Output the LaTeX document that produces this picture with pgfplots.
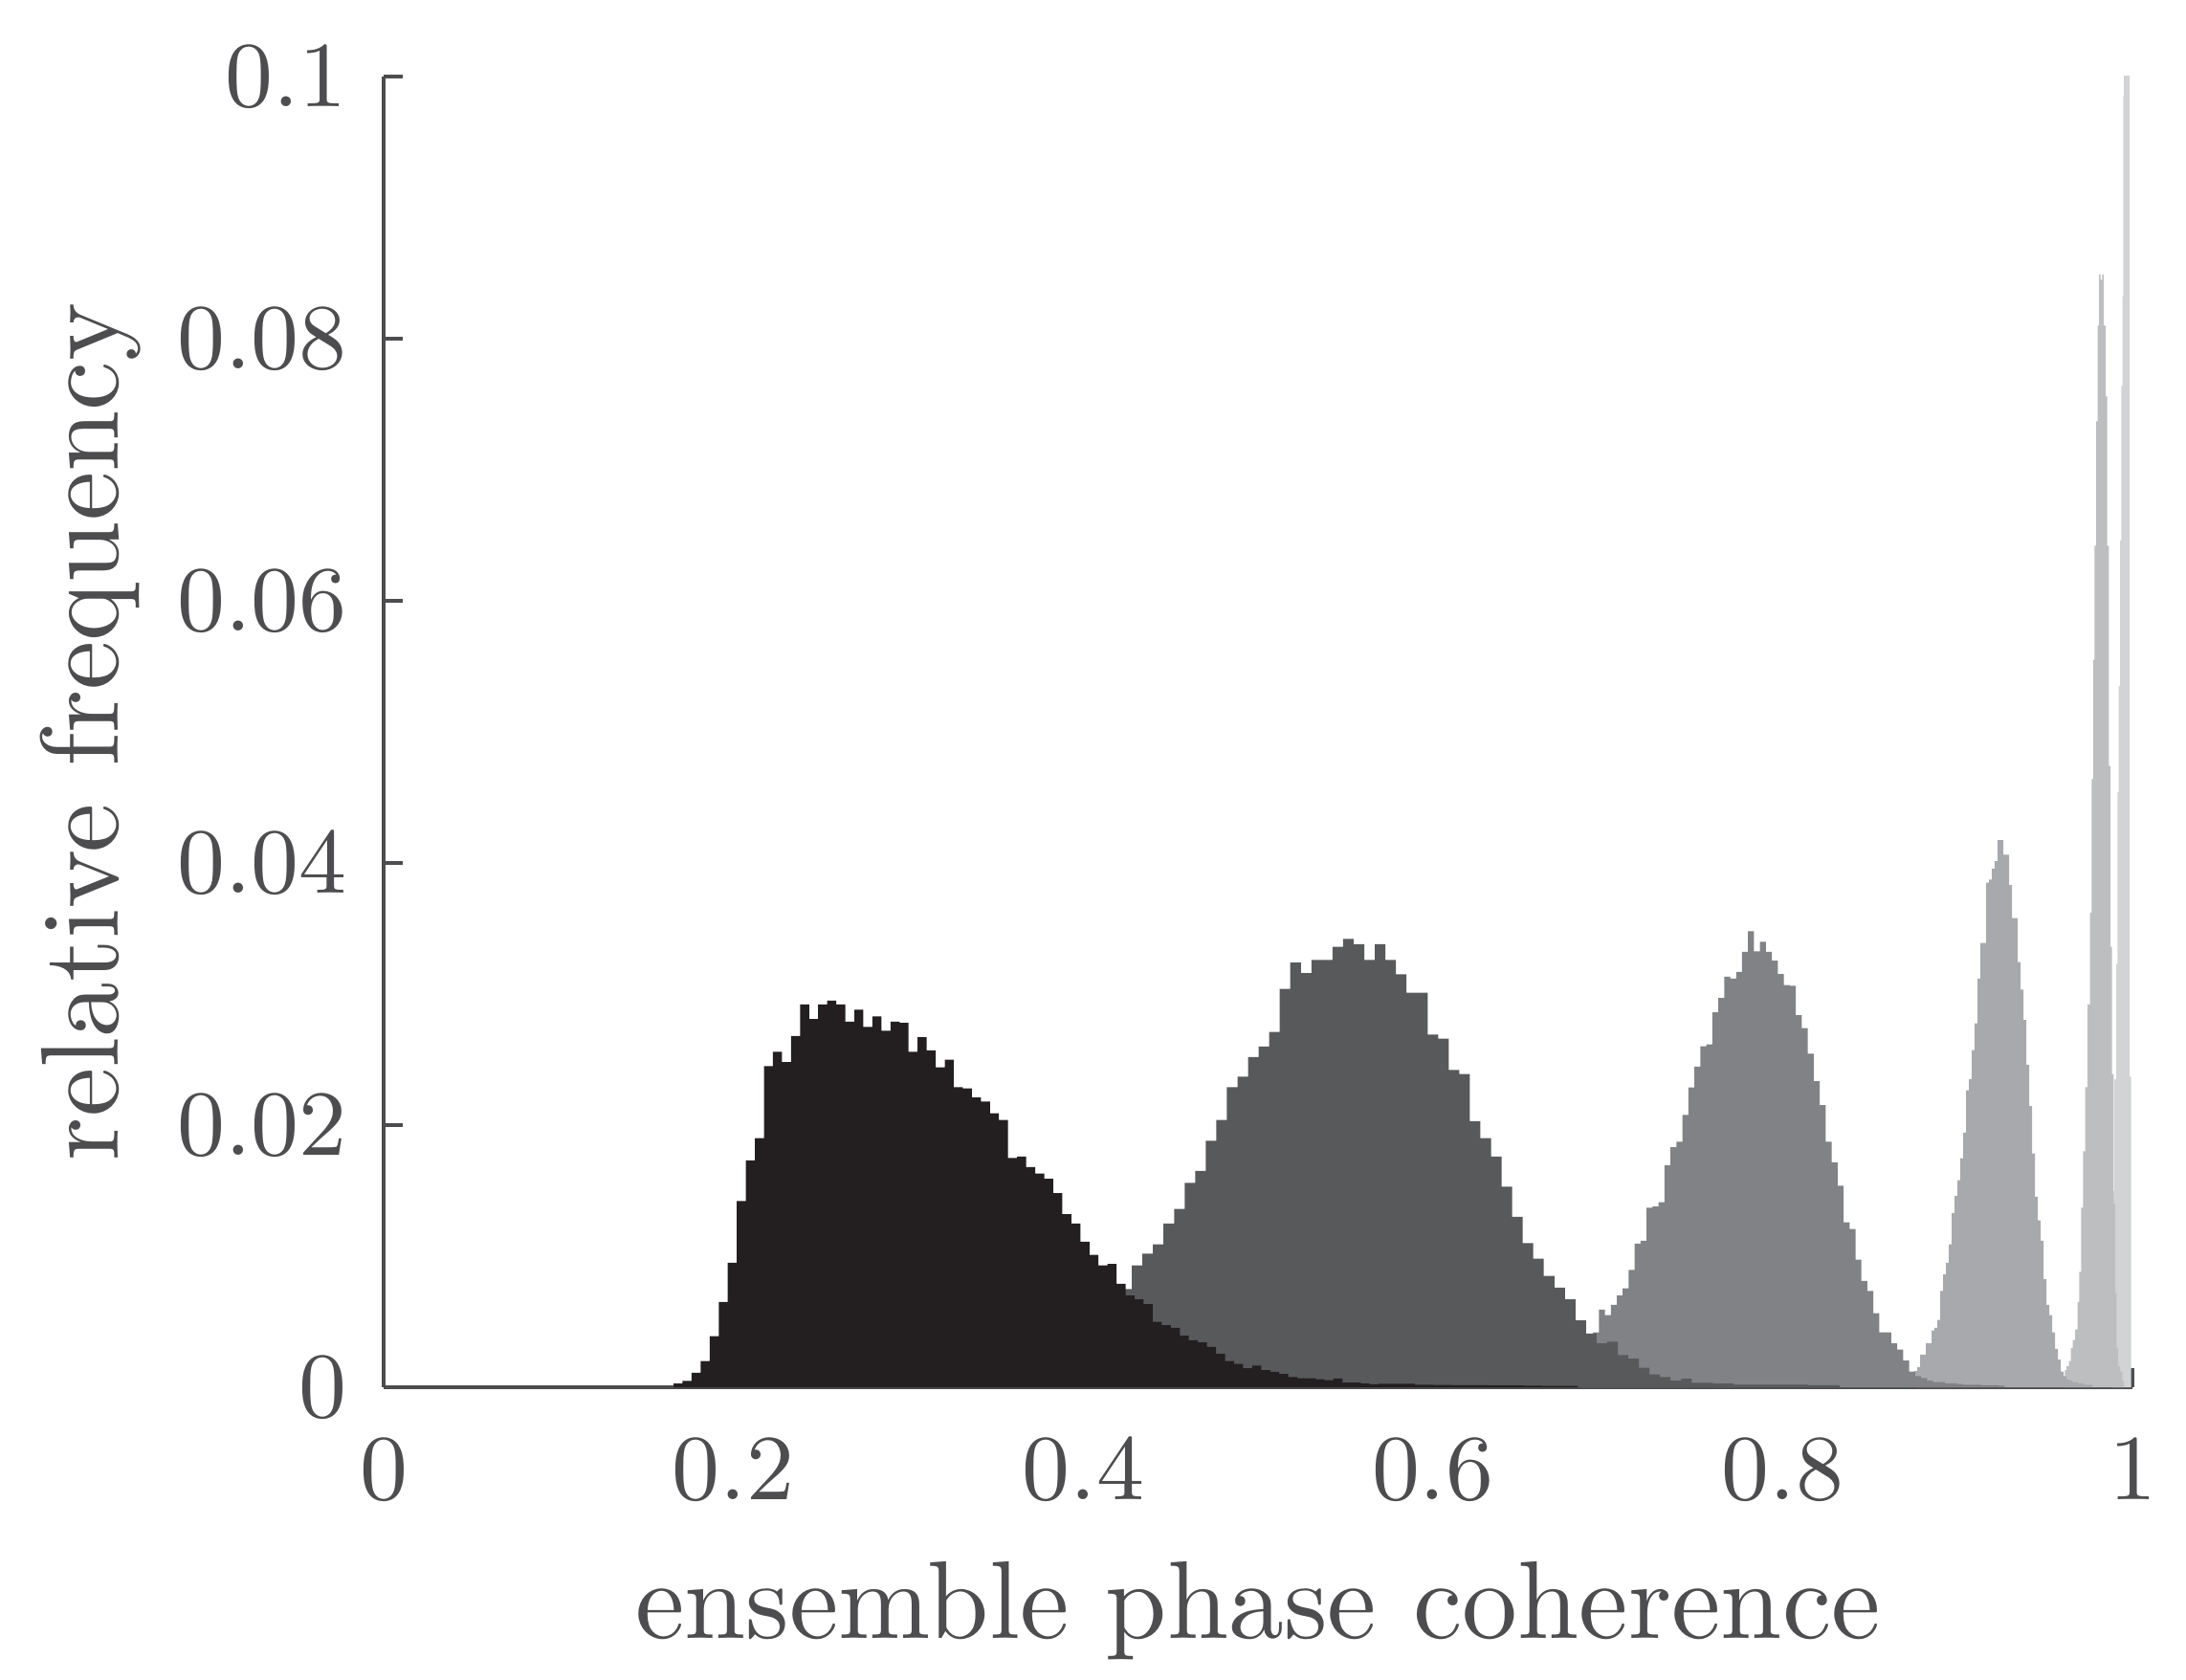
\documentclass[border=0pt]{standalone}
\usepackage{pgfplots}
\pgfplotsset{compat=1.18}
\usetikzlibrary{calc}

\definecolor{axiscol}{RGB}{77,77,79}
\definecolor{hblack}{HTML}{231F20}
\definecolor{hdark}{HTML}{58595B}
\definecolor{hmid}{HTML}{808285}
\definecolor{hlight}{HTML}{A7A9AC}
\definecolor{hlighter}{HTML}{BCBEC0}
\definecolor{hlightest}{HTML}{D1D3D4}

\begin{document}
\begin{tikzpicture}
\begin{axis}[
    name=ax,
    at={(0,0)}, anchor=south west,
    scale only axis,
    width=169.26pt, height=126.85pt,
    xmin=0, xmax=1,
    ymin=0, ymax=0.1,
    axis x line*=bottom,
    axis y line*=left,
    axis line style={draw=axiscol, line width=0.35pt},
    tick style={draw=axiscol, line width=0.35pt},
    tick align=inside,
    major tick length=1.85pt,
    xtick={0,0.2,0.4,0.6,0.8,1},
    ytick={0,0.02,0.04,0.06,0.08,0.1},
    scaled y ticks=false,
    scaled x ticks=false,
    ticklabel style={text=axiscol, font=\fontsize{9.2}{11}\selectfont,
        /pgf/number format/fixed, /pgf/number format/precision=2},
    xticklabel style={yshift=-1.5pt},
    yticklabel style={xshift=0pt},
    label style={text=axiscol, font=\fontsize{10.7}{13}\selectfont},
    xlabel={ensemble phase coherence},
    ylabel={relative frequency},
    xlabel style={at={(axis description cs:0.5,-0.19125)}, anchor=base},
    ylabel style={at={(axis description cs:-0.15154,0.5)}, anchor=base},
]

% lightest (clipped at the top)
\addplot[const plot mark left, fill=hlightest, draw=none] coordinates {
(0.98815,0.0080) (0.98888,0.0150) (0.98961,0.0235) (0.99070,0.0323)
(0.99143,0.0454) (0.99216,0.0535) (0.99289,0.0646) (0.99362,0.0764)
(0.99435,0.0832) (0.99470,0.0985) (0.99508,0.1150) (0.99573,0.1400)
(0.99639,0.1550) (0.99705,0.1500) (0.99770,0.1250) (0.99836,0.0237)
(0.99920,0)
} \closedcycle;

% lighter
\addplot[const plot mark left, fill=hlighter, draw=none] coordinates {
(0.96134,0.0013) (0.96225,0.0016) (0.96371,0.0020) (0.96481,0.0030)
(0.96590,0.0036) (0.96718,0.0044) (0.96864,0.0065) (0.96955,0.0088)
(0.97064,0.0137) (0.97174,0.0180) (0.97301,0.0229) (0.97429,0.0292)
(0.97575,0.0362) (0.97666,0.0464) (0.97757,0.0555) (0.97830,0.0642)
(0.97921,0.0737) (0.98012,0.0810) (0.98085,0.0849) (0.98176,0.0845)
(0.98268,0.0849) (0.98359,0.0810) (0.98468,0.0756) (0.98559,0.0642)
(0.98651,0.0474) (0.98742,0.0336) (0.98833,0.0239) (0.98924,0.0140)
(0.99015,0.0072) (0.99088,0.0030) (0.99179,0.0016) (0.99289,0.0012)
(0.99416,0.0005) (0.99508,0)
} \closedcycle;

% light gray
\addplot[const plot mark left, fill=hlight, draw=none] coordinates {
(0.87527,0.00125) (0.87691,0.00155) (0.87855,0.0025) (0.88019,0.0025)
(0.88183,0.00335) (0.88348,0.00335) (0.88512,0.00433) (0.88676,0.00453)
(0.88840,0.00514) (0.89004,0.00735) (0.89168,0.00861) (0.89332,0.0095)
(0.89496,0.0109) (0.89660,0.01328) (0.89824,0.0146) (0.89989,0.0158)
(0.90153,0.01747) (0.90317,0.01943) (0.90481,0.02265) (0.90645,0.02349)
(0.90809,0.02573) (0.90973,0.02777) (0.91137,0.03118) (0.91301,0.03389)
(0.91465,0.03389) (0.91630,0.0385) (0.91794,0.03873) (0.91958,0.03957)
(0.92122,0.04013) (0.92286,0.04175) (0.92450,0.04175) (0.92614,0.04063)
(0.92778,0.04063) (0.92942,0.03831) (0.93106,0.0358) (0.93271,0.0358)
(0.93435,0.03244) (0.93599,0.03034) (0.93763,0.02802) (0.93927,0.02461)
(0.94091,0.02145) (0.94255,0.01784) (0.94419,0.01454) (0.94583,0.01272)
(0.94747,0.01118) (0.94912,0.00825) (0.95076,0.00629) (0.95240,0.0055)
(0.95404,0.00419) (0.95568,0.00293) (0.95732,0.0021) (0.95896,0.0012)
(0.96060,0.00084) (0.96224,0.0006) (0.96388,0.0005) (0.96552,0.0004)
(0.96716,0.0004) (0.96881,0.0003) (0.97045,0.0003) (0.97209,0.0002)
(0.97373,0.0002) (0.97537,0.0002) (0.97701,0)
} \closedcycle;

% mid gray
\addplot[const plot mark left, fill=hmid, draw=none] coordinates {
(0.68465,0.0020) (0.68806,0.0032)
(0.69147,0.00419) (0.69488,0.00593) (0.69829,0.0055) (0.70171,0.00629)
(0.70512,0.00699) (0.70853,0.00755) (0.71194,0.00895) (0.71535,0.01096)
(0.71877,0.01118) (0.72218,0.0137) (0.72559,0.01379) (0.72900,0.01412)
(0.73241,0.01692) (0.73583,0.01831) (0.73924,0.01874) (0.74265,0.02077)
(0.74606,0.02288) (0.74947,0.02447) (0.75289,0.02601) (0.75630,0.02615)
(0.75971,0.02861) (0.76312,0.0297) (0.76653,0.03132) (0.76995,0.03118)
(0.77336,0.03169) (0.77677,0.03322) (0.78018,0.03479) (0.78359,0.03325)
(0.78701,0.03398) (0.79042,0.03322) (0.79383,0.03255) (0.79724,0.03152)
(0.80065,0.03068) (0.80407,0.03063) (0.80748,0.02839) (0.81089,0.0274)
(0.81430,0.02545) (0.81771,0.02335) (0.82113,0.02153) (0.82454,0.01874)
(0.82795,0.01717) (0.83136,0.01538) (0.83477,0.01258) (0.83819,0.01208)
(0.84160,0.00973) (0.84501,0.00811) (0.84842,0.00735) (0.85183,0.00565)
(0.85525,0.00419) (0.85866,0.00419) (0.86207,0.00335) (0.86548,0.00288)
(0.86889,0.00204) (0.87231,0.0012) (0.87572,0.00084) (0.87913,0.0007)
(0.88254,0.0005) (0.88595,0.0004) (0.88937,0.0004) (0.89278,0.0003)
(0.89619,0.0003) (0.89960,0.00025) (0.90301,0.0002) (0.90643,0.0002)
(0.90984,0.0002) (0.91325,0.00015) (0.91666,0.00015) (0.92007,0.00015)
(0.92349,0.00012) (0.92690,0)
} \closedcycle;

% dark gray
\addplot[const plot mark left, fill=hdark, draw=none] coordinates {
(0.39764,0.0030) (0.40368,0.0045) (0.40972,0.0058) (0.41576,0.0068)
(0.42180,0.0075) (0.42784,0.0093) (0.43388,0.0102) (0.43992,0.0109)
(0.44596,0.0125) (0.45200,0.0136) (0.45804,0.0156) (0.46408,0.0165)
(0.47012,0.0188) (0.47616,0.0204) (0.48220,0.0229) (0.48824,0.0237)
(0.49428,0.0252) (0.50032,0.0260) (0.50636,0.0271) (0.51240,0.0304)
(0.51844,0.0324) (0.52448,0.0316) (0.53052,0.0326) (0.53656,0.0326)
(0.54260,0.0336) (0.54864,0.0342) (0.55468,0.0338) (0.56072,0.0326)
(0.56676,0.0338) (0.57280,0.0326) (0.57884,0.0315) (0.58488,0.0301)
(0.59092,0.0301) (0.59696,0.0269) (0.60300,0.0266) (0.60904,0.0242)
(0.61508,0.0239) (0.62112,0.0203) (0.62716,0.0190) (0.63320,0.0176)
(0.63924,0.0153) (0.64528,0.0130) (0.65132,0.0110) (0.65736,0.0098)
(0.66340,0.0085) (0.66944,0.0076) (0.67548,0.0067) (0.68152,0.0051)
(0.68756,0.0041) (0.69360,0.00335) (0.69964,0.00347) (0.70568,0.00246)
(0.71172,0.00218) (0.71776,0.00148) (0.72380,0.00098) (0.72984,0.00078)
(0.73588,0.0005) (0.74192,0.00064) (0.74796,0.00034) (0.75400,0.00034)
(0.76004,0.00028) (0.76608,0.00028) (0.77212,0.00019) (0.77816,0.00019)
(0.78420,0.00019) (0.79024,0.00019) (0.79628,0.00019) (0.80232,0.00019)
(0.80836,0.00019) (0.81440,0.00015) (0.82044,0.00015) (0.82648,0.00015)
(0.83252,0)
} \closedcycle;

% black
\addplot[const plot mark left, fill=hblack, draw=none] coordinates {
(0.16575,0.00029) (0.17092,0.00049) (0.17609,0.0011) (0.18126,0.0020)
(0.18643,0.0039) (0.19160,0.0065) (0.19677,0.0095) (0.20194,0.0142)
(0.20711,0.0173) (0.21228,0.0190) (0.21745,0.0245) (0.22262,0.0256)
(0.22779,0.0248) (0.23296,0.0268) (0.23813,0.0292) (0.24330,0.0281)
(0.24847,0.0292) (0.25364,0.0295) (0.25881,0.0292) (0.26398,0.0279)
(0.26915,0.0288) (0.27432,0.0275) (0.27949,0.0283) (0.28466,0.0272)
(0.28983,0.0279) (0.29500,0.0278) (0.30017,0.0256) (0.30534,0.0267)
(0.31051,0.0257) (0.31568,0.0244) (0.32085,0.0250) (0.32602,0.0229)
(0.33119,0.0228) (0.33636,0.0221) (0.34153,0.0218) (0.34670,0.0209)
(0.35187,0.0204) (0.35704,0.0175) (0.36221,0.0176) (0.36738,0.0168)
(0.37255,0.0163) (0.37772,0.0159) (0.38289,0.0148) (0.38806,0.0132)
(0.39323,0.0125) (0.39840,0.0111) (0.40357,0.0101) (0.40874,0.0093)
(0.41391,0.0094) (0.41908,0.0079) (0.42425,0.0070) (0.42942,0.0067)
(0.43459,0.00635) (0.43976,0.0050) (0.44493,0.00474) (0.45010,0.00453)
(0.45527,0.00394) (0.46044,0.00358) (0.46561,0.00343) (0.47078,0.00307)
(0.47595,0.00255) (0.48112,0.0020) (0.48629,0.00178) (0.49146,0.00146)
(0.49663,0.00166) (0.50180,0.00131) (0.50697,0.00117) (0.51214,0.00102)
(0.51731,0.00078) (0.52248,0.00068) (0.52765,0.00068) (0.53282,0.00061)
(0.53799,0.00054) (0.54316,0.00066) (0.54833,0.00036) (0.55350,0.00036)
(0.55867,0.00029) (0.56384,0.00022) (0.56901,0.00026) (0.57418,0.00026)
(0.57935,0.00026) (0.58452,0.00026) (0.58969,0.0002) (0.59486,0.0002)
(0.60003,0.00018) (0.60520,0.00018) (0.61037,0.00016) (0.61554,0.00016)
(0.62071,0.00015) (0.62588,0.00015) (0.63105,0.00014) (0.63622,0.00014)
(0.64139,0.00013) (0.64656,0.00013) (0.65173,0.00012) (0.65690,0.00012)
(0.66207,0.0001) (0.66724,0.0001) (0.67241,0.0001) (0.67758,0.0001)
(0.68275,0)
} \closedcycle;

\end{axis}
\pgfresetboundingbox
\path[use as bounding box] ($(ax.south west)+(-37.13pt,-28.33pt)$) rectangle ($(ax.south west)+(174.44pt,134.26pt)$);
\end{tikzpicture}
\end{document}
